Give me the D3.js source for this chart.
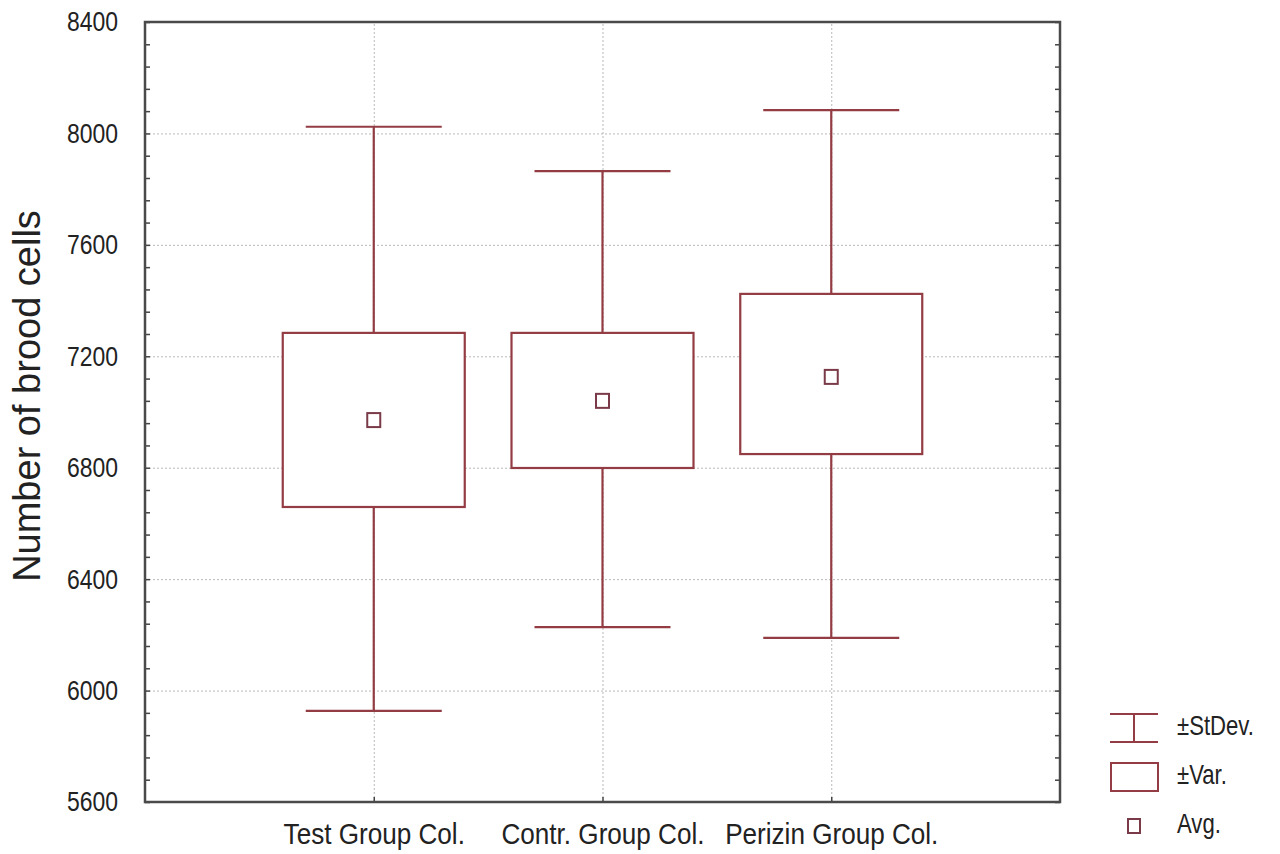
<!DOCTYPE html>
<html>
<head>
<meta charset="utf-8">
<script src="https://cdn.jsdelivr.net/npm/d3@7"></script>
<style>
body { margin: 0; background: #fff; }
.axis path { display: none; }
</style>
</head>
<body>
<script>
var width = 1280, height = 854;

// data
var groups = ["Test Group Col.", "Contr. Group Col.", "Perizin Group Col."];
var avg = [6971, 7040, 7126];
var sdLow = [5927, 6228, 6189];
var sdHigh = [8024, 7865, 8084];
var varLow = [6659, 6799, 6849];
var varHigh = [7284, 7284, 7424];
var yTicks = [5600, 6000, 6400, 6800, 7200, 7600, 8000, 8400];
var legendLabels = ["\u00b1StDev.", "\u00b1Var.", "Avg."];

var pLeft = 145, pRight = 1060, pTop = 22, pBottom = 802;
var boxColor = "#933c44";
var font = "'Liberation Sans', Arial, sans-serif";

var svg = d3.select("body")
.append("svg")
.attr("width", width)
.attr("height", height)
.attr("id","svg");

var y = d3.scaleLinear().domain([5600, 8400]).range([pBottom, pTop]);
var x = d3.scalePoint().domain(groups).range([pLeft, pRight]).padding(1);

// grid
svg.append("g")
.attr("class","axis")
.attr("transform","translate(" + pLeft + ",0)")
.call(d3.axisLeft(y).tickValues(yTicks.slice(1, -1)).tickSize(-(pRight - pLeft)).tickFormat(""))
.selectAll("line")
.attr("stroke","#b8b8b8")
.attr("stroke-dasharray","2,2");

svg.append("g")
.attr("class","axis")
.attr("transform","translate(0," + pBottom + ")")
.call(d3.axisBottom(x).tickSize(-(pBottom - pTop)).tickFormat(""))
.selectAll("line")
.attr("stroke","#b8b8b8")
.attr("stroke-dasharray","2,2");

// minor ticks, inward on left and right
var minor = d3.range(5600, 8401, 80);
svg.append("g")
.attr("class","axis")
.attr("transform","translate(" + pLeft + ",0)")
.call(d3.axisLeft(y).tickValues(minor).tickSize(-5).tickFormat(""))
.selectAll("line").attr("stroke","#444").attr("stroke-width",1.5);

svg.append("g")
.attr("class","axis")
.attr("transform","translate(" + pRight + ",0)")
.call(d3.axisRight(y).tickValues(minor).tickSize(-5).tickFormat(""))
.selectAll("line").attr("stroke","#444").attr("stroke-width",1.5);

svg.append("g")
.attr("class","axis")
.attr("transform","translate(0," + pBottom + ")")
.call(d3.axisBottom(x).tickSize(-5).tickFormat(""))
.selectAll("line").attr("stroke","#444").attr("stroke-width",1.5);

// tick labels (squeezed sideways to look like the narrow original font)
var yLab = svg.append("g")
.attr("class","axis")
.attr("transform","translate(" + pLeft + ",0)")
.call(d3.axisLeft(y).tickValues(yTicks).tickSize(0).tickFormat(d3.format("d")));
yLab.selectAll("text")
.attr("x", 0)
.attr("transform","translate(-27,0) scale(0.82,1)")
.attr("font-family", font)
.attr("font-size", 28)
.attr("fill","#222");

var xLab = svg.append("g")
.attr("class","axis")
.attr("transform","translate(0," + pBottom + ")")
.call(d3.axisBottom(x).tickSize(0));
xLab.selectAll("text")
.attr("y", 0)
.attr("dy", "0.71em")
.attr("transform","translate(0,21) scale(0.87,1)")
.attr("font-family", font)
.attr("font-size", 30)
.attr("fill","#222");

// frame
svg.append("rect")
.attr("x", pLeft)
.attr("y", pTop)
.attr("width", pRight - pLeft)
.attr("height", pBottom - pTop)
.attr("fill","none")
.attr("stroke","#4a4a4a")
.attr("stroke-width",2.5);

// y title
svg.append("text")
.attr("transform","translate(30,396) rotate(-90)")
.attr("text-anchor","middle")
.attr("dominant-baseline","middle")
.attr("font-family", font)
.attr("font-size", 38)
.attr("fill","#222")
.text("Number of brood cells");

// whiskers and boxes
var capHalf = 68, boxHalf = 91, avgHalf = 7;
var idx = d3.range(groups.length);

var marks = svg.append("g").attr("id","marks");

marks.selectAll(".whisker")
.data(idx)
.enter().append("line")
.attr("class","whisker")
.attr("x1", function(i){ return x(groups[i]); })
.attr("x2", function(i){ return x(groups[i]); })
.attr("y1", function(i){ return y(sdLow[i]); })
.attr("y2", function(i){ return y(sdHigh[i]); })
.attr("stroke", boxColor)
.attr("stroke-width", 2.2);

[sdLow, sdHigh].forEach(function(arr){
    marks.selectAll(null)
    .data(idx)
    .enter().append("line")
    .attr("x1", function(i){ return x(groups[i]) - capHalf; })
    .attr("x2", function(i){ return x(groups[i]) + capHalf; })
    .attr("y1", function(i){ return y(arr[i]); })
    .attr("y2", function(i){ return y(arr[i]); })
    .attr("stroke", boxColor)
    .attr("stroke-width", 2.2);
});

marks.selectAll(".box")
.data(idx)
.enter().append("rect")
.attr("class","box")
.attr("x", function(i){ return x(groups[i]) - boxHalf; })
.attr("y", function(i){ return y(varHigh[i]); })
.attr("width", boxHalf * 2)
.attr("height", function(i){ return y(varLow[i]) - y(varHigh[i]); })
.attr("fill","#fff")
.attr("stroke", boxColor)
.attr("stroke-width", 2.2);

marks.selectAll(".avg")
.data(idx)
.enter().append("rect")
.attr("class","avg")
.attr("x", function(i){ return x(groups[i]) - avgHalf + 0.5; })
.attr("y", function(i){ return y(avg[i]) - avgHalf; })
.attr("width", avgHalf * 2 - 1)
.attr("height", avgHalf * 2)
.attr("fill","#fff")
.attr("stroke","#7a3a48")
.attr("stroke-width", 2);

// legend
var lx = 1134, ly = [728, 777, 826];
var legend = svg.append("g").attr("id","legend");

legend.append("line")
.attr("x1", lx).attr("x2", lx).attr("y1", 714).attr("y2", 742)
.attr("stroke", boxColor).attr("stroke-width", 2);
[714, 742].forEach(function(yy){
    legend.append("line")
    .attr("x1", lx - 24).attr("x2", lx + 24).attr("y1", yy).attr("y2", yy)
    .attr("stroke", boxColor).attr("stroke-width", 2);
});
legend.append("rect")
.attr("x", lx - 23).attr("y", 763).attr("width", 47).attr("height", 28)
.attr("fill","#fff").attr("stroke", boxColor).attr("stroke-width", 2);
legend.append("rect")
.attr("x", lx - 6).attr("y", 819).attr("width", 12).attr("height", 14)
.attr("fill","#fff").attr("stroke","#7a3a48").attr("stroke-width", 2);

legend.selectAll(".ltext")
.data(legendLabels)
.enter().append("text")
.attr("class","ltext")
.attr("transform", function(d, i){ return "translate(1177," + ly[i] + ") scale(0.82,1)"; })
.attr("dominant-baseline","middle")
.attr("font-family", font)
.attr("font-size", 27)
.attr("fill","#222")
.text(function(d){ return d; });
</script>
</body>
</html>
